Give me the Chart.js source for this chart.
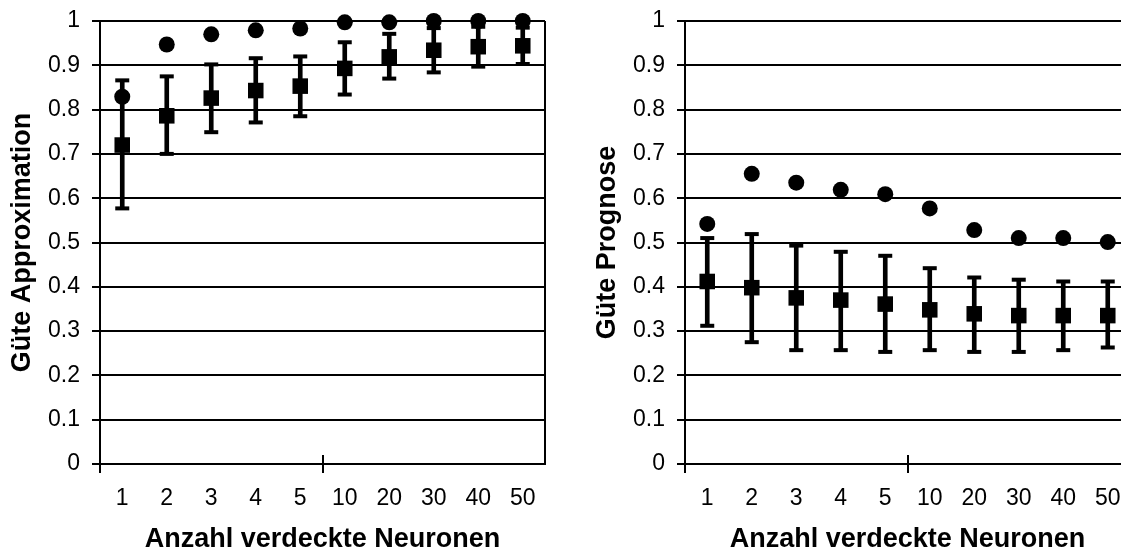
<!DOCTYPE html>
<html>
<head>
<meta charset="utf-8">
<title>Güte Approximation / Prognose</title>
<script src="https://cdn.jsdelivr.net/npm/chart.js@4/dist/chart.umd.min.js"></script>
<style>
  html, body { margin: 0; padding: 0; background: #fff; overflow: hidden; }
  body { width: 1121px; height: 554px; position: relative; }
  #chart-approx { position: absolute; left: 0; top: 0; }
  #chart-prognose { position: absolute; left: 560px; top: 0; }
</style>
</head>
<body>
<canvas id="chart-approx" width="560" height="554"></canvas>
<canvas id="chart-prognose" width="600" height="554"></canvas>

<script>
// --- Daten ---
const neuronen = ['1', '2', '3', '4', '5', '10', '20', '30', '40', '50'];
const yTicks = [0, 0.1, 0.2, 0.3, 0.4, 0.5, 0.6, 0.7, 0.8, 0.9, 1];

// Approximation: Bestwert, Mittelwert, Streuung (unten / oben)
const approxBest = [0.829, 0.947, 0.970, 0.979, 0.983, 0.997, 0.997, 1.0, 1.0, 1.0];
const approxMittel = [0.720, 0.786, 0.826, 0.843, 0.853, 0.893, 0.919, 0.934, 0.942, 0.944];
const approxUnten = [0.577, 0.700, 0.749, 0.771, 0.785, 0.834, 0.870, 0.884, 0.897, 0.903];
const approxOben = [0.866, 0.875, 0.902, 0.916, 0.920, 0.952, 0.971, 0.984, 0.987, 0.985];

// Prognose
const prognoseBest = [0.542, 0.655, 0.635, 0.619, 0.609, 0.577, 0.528, 0.510, 0.510, 0.501];
const prognoseMittel = [0.412, 0.398, 0.375, 0.370, 0.361, 0.348, 0.339, 0.335, 0.335, 0.335];
const prognoseUnten = [0.312, 0.275, 0.257, 0.257, 0.253, 0.257, 0.253, 0.253, 0.257, 0.263];
const prognoseOben = [0.510, 0.519, 0.493, 0.479, 0.470, 0.442, 0.421, 0.416, 0.412, 0.412];

const SCHWARZ = '#000';
const FONT = "'Liberation Sans', Arial, sans-serif";

// Kreuzende Teilstriche auf der x-Achse + rechter Rahmen
const achsenRahmen = {
  id: 'achsenRahmen',
  afterDraw(chart) {
    const { ctx, chartArea } = chart;
    const x = chart.scales.x;
    ctx.save();
    ctx.strokeStyle = SCHWARZ;
    ctx.lineWidth = 2;
    ctx.beginPath();
    [-0.5, 4.5, 9.5].forEach(v => {
      const px = Math.round(x.getPixelForValue(v));
      ctx.moveTo(px, chartArea.bottom - 9);
      ctx.lineTo(px, chartArea.bottom);
    });
    const r = Math.round(x.getPixelForValue(9.5));
    ctx.moveTo(r, chartArea.top);
    ctx.lineTo(r, chartArea.bottom);
    ctx.stroke();
    ctx.restore();
  }
};

function baueDiagramm(canvasId, yTitel, best, mittel, unten, oben, padding) {
  const ctx = document.getElementById(canvasId).getContext('2d');
  return new Chart(ctx, {
    type: 'bar',
    data: {
      labels: neuronen,
      datasets: [
        {
          // Streuung als senkrechter Balken
          type: 'bar',
          data: unten.map((u, i) => [u, oben[i]]),
          backgroundColor: SCHWARZ,
          barThickness: 4,
          grouped: false,
          order: 5
        },
        {
          type: 'line',
          data: unten,
          showLine: false,
          pointStyle: 'line',
          pointRadius: 7,
          pointBorderWidth: 4,
          pointBorderColor: SCHWARZ,
          clip: false,
          order: 4
        },
        {
          type: 'line',
          data: oben,
          showLine: false,
          pointStyle: 'line',
          pointRadius: 7,
          pointBorderWidth: 4,
          pointBorderColor: SCHWARZ,
          clip: false,
          order: 3
        },
        {
          // Mittelwert
          type: 'line',
          data: mittel,
          showLine: false,
          pointStyle: 'rect',
          pointRadius: 11,
          pointBorderWidth: 0,
          pointBackgroundColor: SCHWARZ,
          clip: false,
          order: 2
        },
        {
          // Bestwert
          type: 'line',
          data: best,
          showLine: false,
          pointStyle: 'circle',
          pointRadius: 8,
          pointBorderWidth: 0,
          pointBackgroundColor: SCHWARZ,
          clip: false,
          order: 1
        }
      ]
    },
    options: {
      responsive: false,
      animation: false,
      devicePixelRatio: 1,
      layout: { padding: padding, autoPadding: false },
      plugins: { legend: { display: false }, tooltip: { enabled: false } },
      scales: {
        x: {
          type: 'category',
          offset: true,
          afterFit: s => { s.height = 90; },
          grid: {
            offset: true,
            drawOnChartArea: false,
            tickLength: 9,
            lineWidth: 2,
            color: c => (c.index % 5 === 0 ? SCHWARZ : 'rgba(0,0,0,0)')
          },
          border: { display: true, color: SCHWARZ, width: 2 },
          ticks: {
            color: SCHWARZ,
            padding: 12,
            maxRotation: 0,
            autoSkip: false,
            font: { family: FONT, size: 23 }
          },
          title: {
            display: true,
            text: 'Anzahl verdeckte Neuronen',
            color: SCHWARZ,
            font: { family: FONT, size: 27, weight: 'bold', lineHeight: 1 },
            padding: { top: 0, bottom: 1 }
          }
        },
        y: {
          min: 0,
          max: 1,
          afterFit: s => {
            s.width = 100;
            // Beschriftung darf über den Plotbereich hinausragen
            s.paddingTop = 0;
            s.paddingBottom = 0;
          },
          afterBuildTicks: s => { s.ticks = yTicks.map(v => ({ value: v })); },
          grid: { color: SCHWARZ, lineWidth: 2, tickLength: 8 },
          border: { display: true, color: SCHWARZ, width: 2 },
          ticks: {
            color: SCHWARZ,
            padding: 12,
            font: { family: FONT, size: 23 },
            callback: v => String(+v.toFixed(1))
          },
          title: {
            display: true,
            text: yTitel,
            color: SCHWARZ,
            font: { family: FONT, size: 27, weight: 'bold', lineHeight: 1 },
            padding: { top: 9, bottom: 0 }
          }
        }
      }
    },
    plugins: [achsenRahmen]
  });
}

baueDiagramm('chart-approx', 'Güte Approximation',
  approxBest, approxMittel, approxUnten, approxOben,
  { top: 21, right: 15, left: 0, bottom: 0 });

baueDiagramm('chart-prognose', 'Güte Prognose',
  prognoseBest, prognoseMittel, prognoseUnten, prognoseOben,
  { top: 21, right: 30, left: 25, bottom: 0 });
</script>
</body>
</html>
